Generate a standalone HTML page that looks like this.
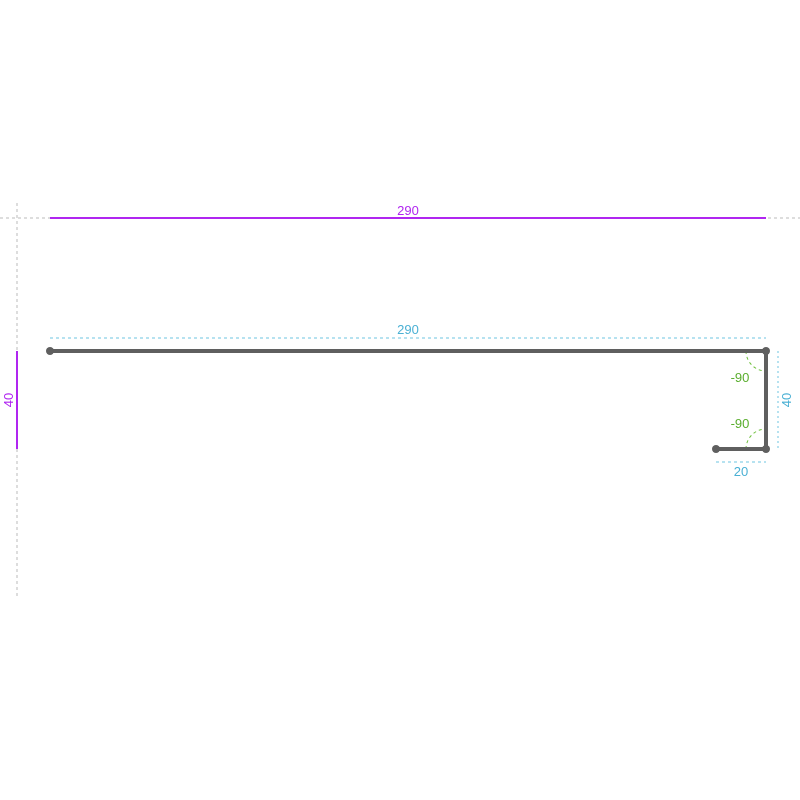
<!DOCTYPE html>
<html><head><meta charset="utf-8"><style>html,body{margin:0;padding:0;background:#fff}svg{display:block}</style></head>
<body>
<svg width="800" height="800" viewBox="0 0 800 800" xmlns="http://www.w3.org/2000/svg" font-family="Liberation Sans, sans-serif">
<line x1="0" y1="218" x2="800" y2="218" stroke="#bbb" stroke-width="1" stroke-dasharray="3,3"/>
<line x1="17" y1="203" x2="17" y2="597" stroke="#bbb" stroke-width="1" stroke-dasharray="3,3"/>
<line x1="50" y1="218" x2="766" y2="218" stroke="#b026f0" stroke-width="2"/>
<text x="408" y="215" fill="#b026f0" font-size="13" text-anchor="middle">290</text>
<line x1="17" y1="351" x2="17" y2="449" stroke="#b026f0" stroke-width="2"/>
<text x="13" y="400" fill="#b026f0" font-size="13" text-anchor="middle" transform="rotate(-90 13 400)">40</text>
<line x1="50" y1="338" x2="766" y2="338" stroke="#6cc6e0" stroke-width="1" stroke-dasharray="3,3"/>
<text x="408" y="334" fill="#4ab0d4" font-size="13" text-anchor="middle">290</text>
<line x1="778" y1="351" x2="778" y2="449" stroke="#6cc6e0" stroke-width="1" stroke-dasharray="2,3"/>
<text x="791" y="400" fill="#4ab0d4" font-size="13" text-anchor="middle" transform="rotate(-90 791 400)">40</text>
<line x1="716" y1="462" x2="766" y2="462" stroke="#6cc6e0" stroke-width="1" stroke-dasharray="3,3"/>
<text x="741" y="476" fill="#4ab0d4" font-size="13" text-anchor="middle">20</text>
<path d="M746 351 A20 20 0 0 0 766 371" fill="none" stroke="#6cbf3a" stroke-width="1" stroke-dasharray="3,3"/>
<path d="M746 449 A20 20 0 0 1 766 429" fill="none" stroke="#6cbf3a" stroke-width="1" stroke-dasharray="3,3"/>
<text x="740" y="382" fill="#5aae2e" font-size="13" text-anchor="middle">-90</text>
<text x="740" y="428" fill="#5aae2e" font-size="13" text-anchor="middle">-90</text>
<polyline points="50,351 766,351 766,449 716,449" fill="none" stroke="#5f5f5f" stroke-width="4" stroke-linejoin="round"/>
<circle cx="50" cy="351" r="4" fill="#5f5f5f"/>
<circle cx="766" cy="351" r="4" fill="#5f5f5f"/>
<circle cx="766" cy="449" r="4" fill="#5f5f5f"/>
<circle cx="716" cy="449" r="4" fill="#5f5f5f"/>
</svg>
</body></html>
